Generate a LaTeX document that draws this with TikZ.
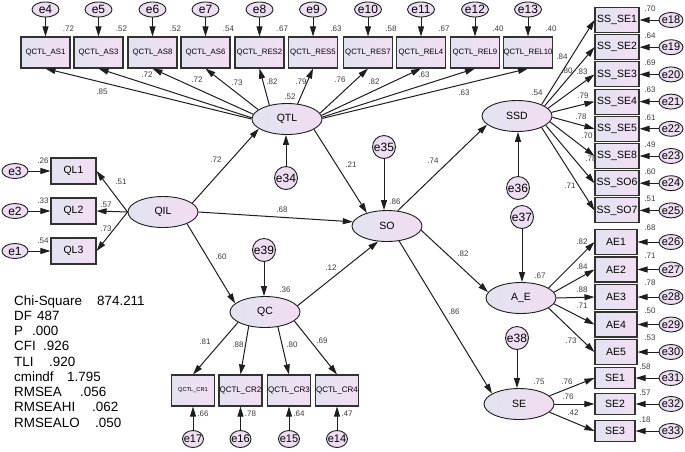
\documentclass[tikz,border=0pt]{standalone}
\usepackage{fontspec}
\setmainfont{Liberation Sans}
\usetikzlibrary{arrows.meta,shapes.geometric}
\definecolor{boxL}{RGB}{226,227,240}
\definecolor{boxR}{RGB}{243,222,243}
\definecolor{latL}{RGB}{226,228,240}
\definecolor{latR}{RGB}{242,220,242}
\definecolor{errF}{RGB}{238,222,243}
\definecolor{labC}{RGB}{60,60,60}
\definecolor{lineC}{RGB}{30,30,30}
\definecolor{boxD}{RGB}{50,50,50}
\tikzset{
 obs/.style={rectangle, draw=boxD, line width=1.1pt, left color=boxL, right color=boxR, inner sep=0pt},
 lat/.style={ellipse, draw=lineC, line width=0.9pt, left color=latL, right color=latR, minimum width=70pt, minimum height=31pt, inner sep=0pt, font=\fontsize{10.5}{11}\selectfont},
 errE/.style={ellipse, draw=lineC, line width=0.9pt, fill=errF, inner xsep=-3pt, inner ysep=0pt},
 errD/.style={circle, draw=lineC, line width=0.9pt, fill=errF, minimum size=23pt, inner sep=0pt, font=\fontsize{12}{12}\selectfont},
 arr/.style={-{Triangle[length=10pt,width=6pt]}, line width=1pt, draw=lineC},
 lab/.style={font=\fontsize{8}{8}\selectfont, text=labC, inner sep=0pt},
 stat/.style={font=\fontsize{13.4}{14}\selectfont, anchor=base west, inner sep=0pt},
}
\begin{document}
\begin{tikzpicture}[x=1pt,y=-1pt]
\useasboundingbox (0,0) rectangle (685,451);

% latent variables
\node[lat] (QIL) at (163,212) {QIL};
\node[lat] (QTL) at (287,119) {QTL};
\node[lat] (SO)  at (387,226) {SO};
\node[lat] (QC)  at (265,312) {QC};
\node[lat] (SSD) at (517,116) {SSD};
\node[lat] (AE)  at (521,298) {A\_E};
\node[lat] (lSE) at (519,404) {SE};

% disturbances
\node[errD] (e34) at (286,178) {e34};
\node[errD] (e35) at (384,147) {e35};
\node[errD] (e39) at (264,250) {e39};
\node[errD] (e36) at (518,188) {e36};
\node[errD] (e37) at (522,217) {e37};
\node[errD] (e38) at (517,338) {e38};
\draw[arr] (e34) -- (e34 |- QTL.south);
\draw[arr] (e35) -- (e35 |- SO.north);
\draw[arr] (e39) -- (e39 |- QC.north);
\draw[arr] (e36) -- (e36 |- SSD.south);
\draw[arr] (e37) -- (e37 |- AE.north);
\draw[arr] (e38) -- (e38 |- lSE.north);

% top indicators of QTL
\foreach \n/\x/\t/\e/\r in {as1/45.5/QCTL\_AS1/4/.72, as3/98.5/QCTL\_AS3/5/.52, as8/152.5/QCTL\_AS8/6/.52, as6/205.5/QCTL\_AS6/7/.54, res2/259.5/QCTL\_RES2/8/.67, res5/313/QCTL\_RES5/9/.63, res7/368/QCTL\_RES7/10/.58, rel4/421/QCTL\_REL4/11/.67, rel9/475/QCTL\_REL9/12/.40, rel10/528/QCTL\_REL10/13/.40}{
  \node[obs, minimum width=49pt, minimum height=31pt, font=\fontsize{7.8}{8}\selectfont] (\n) at (\x,52.5) {\t};
  \node[errE, minimum width=27pt, minimum height=15pt, font=\fontsize{12}{12}\selectfont] (e\e) at (\x,9.5) {e\e};
  \draw[arr] (e\e) -- (\n);
  \node[lab] (r\n) at (\x+23,29) {\r};
}
\foreach \n/\a/\lx/\ly/\v in {as1/180/102/92/.85, as3/178/147/75/.72, as8/172/197/80/.72, as6/162/237/83/.73, res2/142/272/82/.82, res5/55/301/82/.79, res7/10/340/80/.76, rel4/6/374/82/.82, rel9/3/424/75/.63, rel10/1/464/93/.63}{
  \draw[arr] (QTL.\a) -- (\n.south);
  \node[lab] (l\n) at (\lx,\ly) {\v};
}

% SSD indicators
\foreach \n/\y/\t/\e/\r/\a/\lx/\ly/\v in {ss1/20/SS\_SE1/18/.70/25/562/57/.84, ss2/47.2/SS\_SE2/19/.64/20/567/71/.80, ss3/74.4/SS\_SE3/20/.69/14/582/72/.83, ss4/101.6/SS\_SE4/21/.63/6/583/96/.79, ss5/128.8/SS\_SE5/22/.61/-2/581/117/.78, ss6/156/SS\_SE8/23/.49/-10/587/136/.70, ss7/183.2/SS\_SO6/24/.60/-18/591/159/.78, ss8/210.4/SS\_SO7/25/.51/-25/570/186/.71}{
  \node[obs, minimum width=44pt, minimum height=25pt, font=\fontsize{10.5}{11}\selectfont] (\n) at (617,\y) {\t};
  \node[errE, minimum width=24pt, minimum height=15pt, font=\fontsize{11}{11}\selectfont] (e\e) at (671,\y) {e\e};
  \draw[arr] (e\e) -- (\n);
  \node[lab] (r\n) at (650,\y-11.5) {\r};
  \draw[arr] (SSD.\a) -- (\n.west);
  \node[lab] (l\n) at (\lx,\ly) {\v};
}

% A_E indicators
\foreach \n/\y/\t/\e/\r/\a/\lx/\ly/\v in {ae1/242/AE1/26/.68/20/582/242/.82, ae2/269.5/AE2/27/.71/10/582/267/.84, ae3/297/AE3/28/.78/0/582/290/.88, ae4/324.5/AE4/29/.50/-10/582/306/.71, ae5/352/AE5/30/.53/-20/571/341/.73}{
  \node[obs, minimum width=42pt, minimum height=25pt, font=\fontsize{10.5}{11}\selectfont] (\n) at (616,\y) {\t};
  \node[errE, minimum width=24pt, minimum height=15pt, font=\fontsize{11}{11}\selectfont] (e\e) at (671,\y) {e\e};
  \draw[arr] (e\e) -- (\n);
  \node[lab] (r\n) at (650,\y-14) {\r};
  \draw[arr] (AE.\a) -- (\n.west);
  \node[lab] (l\n) at (\lx,\ly) {\v};
}

% SE indicators
\foreach \n/\y/\t/\e/\r/\a/\lx/\ly/\v in {se1/378/SE1/31/.58/15/567/382/.76, se2/404/SE2/32/.57/0/568/397/.76, se3/431/SE3/33/.18/-15/573/413/.42}{
  \node[obs, minimum width=40pt, minimum height=21pt, font=\fontsize{10.5}{11}\selectfont] (\n) at (615,\y) {\t};
  \node[errE, minimum width=24pt, minimum height=15pt, font=\fontsize{11}{11}\selectfont] (e\e) at (671,\y) {e\e};
  \draw[arr] (e\e) -- (\n);
  \node[lab] (r\n) at (645,\y-11) {\r};
  \draw[arr] (lSE.\a) -- (\n.west);
  \node[lab] (l\n) at (\lx,\ly) {\v};
}

% QIL indicators
\foreach \n/\y/\t/\e/\r/\lx/\ly/\v in {ql1/171/QL1/3/.26/121/182/.51, ql2/211/QL2/2/.33/106/205/.57, ql3/251/QL3/1/.54/106/229/.73}{
  \node[obs, minimum width=45pt, minimum height=26pt, font=\fontsize{10.5}{11}\selectfont] (\n) at (73.5,\y) {\t};
  \node[errE, minimum width=26pt, minimum height=15pt, font=\fontsize{12}{12}\selectfont] (e\e) at (15,\y) {e\e};
  \draw[arr] (e\e) -- (\n);
  \node[lab] (r\n) at (43,\y-10) {\r};
  \draw[arr] (QIL.west) -- (\n.east);
  \node[lab] (l\n) at (\lx,\ly) {\v};
}

% QC indicators
\foreach \n/\x/\t/\fs/\e/\r/\a/\lx/\ly/\v in {cr1/193/QCTL\_CR1/5.7/17/.66/201/205/342/.81, cr2/240.5/QCTL\_CR2/8/16/.78/221/238/345/.88, cr3/289/QCTL\_CR3/8/15/.64/311/292/345/.80, cr4/337/QCTL\_CR4/8/14/.47/343/322/341/.69}{
  \node[obs, minimum width=43pt, minimum height=31pt, font=\fontsize{\fs}{\fs}\selectfont] (\n) at (\x,390.5) {\t};
  \node[errE, minimum width=21pt, minimum height=17pt, font=\fontsize{11}{11}\selectfont] (e\e) at (\x,439) {e\e};
  \draw[arr] (e\e) -- (\n);
  \node[lab] (r\n) at (\x+10,414) {\r};
  \draw[arr] (QC.\a) -- (\n.north);
  \node[lab] (l\n) at (\lx,\ly) {\v};
}

% structural paths
\draw[arr] (QIL.17) -- (QTL.199);
\draw[arr] (QIL.0) -- (SO.173);
\draw[arr] (QIL.-26) -- (QC.164);
\draw[arr] (QTL.-21) -- (SO.147);
\draw[arr] (QC.11) -- (SO.240);
\draw[arr] (SO.55) -- (SSD.196);
\draw[arr] (SO.-7) -- (AE.170);
\draw[arr] (SO.-51) -- (lSE.159);

\node[lab] (p1) at (216,160) {.72};
\node[lab] (p2) at (351,165) {.21};
\node[lab] (p3) at (282,210) {.68};
\node[lab] (p4) at (221,257) {.60};
\node[lab] (p5) at (331,268) {.12};
\node[lab] (p6) at (433,161) {.74};
\node[lab] (p7) at (463,254) {.82};
\node[lab] (p8) at (454,312) {.86};

% squared multiple correlations of latents
\node[lab] (q1) at (290,97) {.52};
\node[lab] (q2) at (395,202) {.86};
\node[lab] (q3) at (285,290) {.36};
\node[lab] (q4) at (537,93) {.54};
\node[lab] (q5) at (540,276) {.67};
\node[lab] (q6) at (539,382) {.75};

% fit statistics
\node[stat] (s1k) at (14,305) {Chi-Square};
\node[stat] (s1v) at (97,305) {874.211};
\node[stat] (s2k) at (14,320.25) {DF};
\node[stat] (s2v) at (37,320.25) {487};
\node[stat] (s3k) at (14,335.5) {P};
\node[stat] (s3v) at (32,335.5) {.000};
\node[stat] (s4k) at (14,350.75) {CFI};
\node[stat] (s4v) at (43,350.75) {.926};
\node[stat] (s5k) at (14,366) {TLI};
\node[stat] (s5v) at (49,366) {.920};
\node[stat] (s6k) at (14,381.25) {cmindf};
\node[stat] (s6v) at (67,381.25) {1.795};
\node[stat] (s7k) at (14,396.5) {RMSEA};
\node[stat] (s7v) at (80,396.5) {.056};
\node[stat] (s8k) at (14,411.75) {RMSEAHI};
\node[stat] (s8v) at (92,411.75) {.062};
\node[stat] (s9k) at (14,427) {RMSEALO};
\node[stat] (s9v) at (95,427) {.050};
\end{tikzpicture}
\end{document}
